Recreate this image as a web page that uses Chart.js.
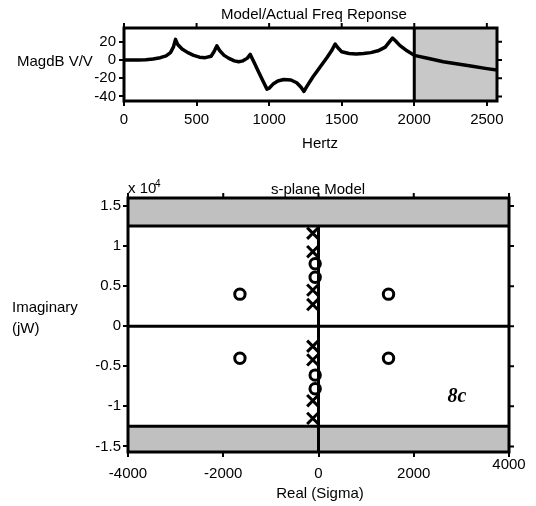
<!DOCTYPE html>
<html>
<head>
<meta charset="utf-8">
<script src="https://cdn.jsdelivr.net/npm/chart.js@4"></script>
<style>
  html, body { margin: 0; padding: 0; background: #fff; }
  #wrap { position: relative; width: 536px; height: 506px; }
  canvas { position: absolute; left: 0; }
  #freqChart { top: 0; }
  #planeChart { top: 165px; }
</style>
</head>
<body>
<div id="wrap">
  <canvas id="freqChart" width="536" height="165"></canvas>
  <canvas id="planeChart" width="536" height="341"></canvas>
</div>
<script>
// frequency response
const freqHz = [0, 100, 150, 200, 250, 290, 320, 340, 355, 370, 400, 440, 480, 520, 560, 600, 620, 640,
  660, 690, 720, 760, 790, 820, 850, 870, 900, 930, 960, 985, 1000, 1030, 1060, 1100, 1150, 1190, 1220,
  1240, 1260, 1300, 1350, 1400, 1430, 1455, 1475, 1500, 1550, 1600, 1650, 1700, 1750, 1800, 1830, 1850,
  1870, 1900, 1950, 2000, 2100, 2200, 2300, 2400, 2500, 2570];
const magDb = [0, 0, 0.3, 1, 2.5, 4.5, 8, 14, 22.5, 17, 12, 8, 5, 3, 2.5, 4, 9, 15.5,
  10, 5, 2, -1, -2, -1, 2, 6, -4, -14, -24, -32, -31, -26, -23, -21.5, -22, -25, -30,
  -34.5, -29, -19, -8, 3, 10, 17.5, 13, 9, 7, 6.5, 7, 8, 10, 14, 20, 24,
  21, 16, 10, 5, 1.5, -2, -4.5, -7, -9.5, -11];
const hzTicks = [0, 500, 1000, 1500, 2000, 2500];
const dbTicks = [20, 0, -20, -40];
const modelLimitHz = 2000;

// s-plane poles (x) and zeros (o), imaginary part in units of 1e4
const poleRe = [-120, -120, -120, -120, -120, -120, -120, -120];
const poleIm = [1.16, 0.93, 0.45, 0.27, -0.25, -0.42, -0.93, -1.15];
const zeroRe = [-1650, 1470, -70, -70, -1650, 1470, -70, -70];
const zeroIm = [0.4, 0.4, 0.78, 0.61, -0.4, -0.4, -0.78, -0.61];
const sigmaTicks = [-4000, -2000, 0, 2000, 4000];
const jwTicks = [1.5, 1, 0.5, 0, -0.5, -1, -1.5];
const bandIm = 1.25;

const FONT = '"Liberation Sans", Arial, sans-serif';
Chart.defaults.font.family = FONT;
Chart.defaults.color = '#000';

function fmt(v) { return String(+v.toFixed(2)); }

function axis(min, max, list, extra) {
  return Object.assign({
    type: 'linear', min, max,
    afterBuildTicks: s => { s.ticks = list.map(v => ({ value: v })); },
    ticks: { font: { size: 15 }, color: '#000', callback: fmt, autoSkip: false, maxRotation: 0 },
    grid: { drawOnChartArea: false, drawTicks: true, tickLength: 5, color: '#000', lineWidth: 2 },
    border: { display: false }
  }, extra);
}

// frame + ticks on top/right sides, drawn from the chart's own scales
const frame = {
  id: 'frame',
  afterDraw(chart) {
    const { ctx, chartArea: a, scales } = chart;
    ctx.save();
    ctx.strokeStyle = '#000';
    ctx.lineWidth = 2;
    ctx.beginPath();
    scales.x.ticks.forEach(t => {
      const px = scales.x.getPixelForValue(t.value);
      ctx.moveTo(px, a.top); ctx.lineTo(px, a.top - 5);
    });
    scales.y.ticks.forEach(t => {
      const py = scales.y.getPixelForValue(t.value);
      ctx.moveTo(a.right, py); ctx.lineTo(a.right + 5, py);
    });
    ctx.stroke();
    ctx.lineWidth = 3;
    ctx.strokeRect(a.left, a.top, a.right - a.left, a.bottom - a.top);
    ctx.restore();
  }
};

function text(ctx, str, x, y, font, align) {
  ctx.font = font;
  ctx.textAlign = align || 'left';
  ctx.textBaseline = 'alphabetic';
  ctx.fillStyle = '#000';
  ctx.fillText(str, x, y);
}

new Chart(document.getElementById('freqChart'), {
  type: 'line',
  data: {
    datasets: [
      {
        data: freqHz.map((f, i) => ({ x: f, y: magDb[i] })),
        borderColor: '#000', borderWidth: 3.5, pointRadius: 0, tension: 0, borderJoinStyle: 'round'
      },
      {
        data: [{ x: modelLimitHz, y: -45 }, { x: modelLimitHz, y: 35 }],
        borderColor: '#000', borderWidth: 3, pointRadius: 0
      }
    ]
  },
  options: {
    responsive: false, animation: false,
    layout: { padding: { top: 28, right: 39, left: 0, bottom: 0 } },
    plugins: { legend: { display: false }, tooltip: { enabled: false } },
    scales: {
      x: axis(0, 2570, hzTicks, { afterFit: s => { s.height = 64; }, ticks: { font: { size: 15 }, color: '#000', callback: fmt, padding: 5, maxRotation: 0 } }),
      y: axis(-45, 35, dbTicks, { afterFit: s => { s.width = 124; }, ticks: { font: { size: 15 }, color: '#000', callback: fmt, padding: 3 } })
    }
  },
  plugins: [frame, {
    id: 'shade',
    beforeDatasetsDraw(chart) {
      const { ctx, chartArea: a, scales: { x } } = chart;
      const x0 = x.getPixelForValue(modelLimitHz);
      ctx.save();
      ctx.fillStyle = '#c8c8c8';
      ctx.fillRect(x0, a.top, a.right - x0, a.bottom - a.top);
      ctx.restore();
    },
    afterDraw(chart) {
      const ctx = chart.ctx;
      text(ctx, 'Model/Actual Freq Reponse', 314, 19, '15px ' + FONT, 'center');
      text(ctx, 'MagdB V/V', 17, 66, '15px ' + FONT);
      text(ctx, 'Hertz', 320, 148, '15px ' + FONT, 'center');
    }
  }]
});

const bandColor = '#c0c0c0';
new Chart(document.getElementById('planeChart'), {
  type: 'scatter',
  data: {
    datasets: [
      {
        type: 'line', data: [{ x: -4000, y: 0 }, { x: 4000, y: 0 }],
        borderColor: '#000', borderWidth: 3, pointRadius: 0
      },
      {
        type: 'line', data: [{ x: 0, y: -1.57 }, { x: 0, y: bandIm }],
        borderColor: '#000', borderWidth: 3, pointRadius: 0
      },
      {
        data: poleRe.map((r, i) => ({ x: r, y: poleIm[i] })),
        pointStyle: 'crossRot', pointRadius: 8, borderColor: '#000', borderWidth: 3
      },
      {
        data: zeroRe.map((r, i) => ({ x: r, y: zeroIm[i] })),
        pointStyle: 'circle', pointRadius: 5.2, borderColor: '#000', backgroundColor: 'rgba(0,0,0,0)', borderWidth: 3
      }
    ]
  },
  options: {
    responsive: false, animation: false,
    layout: { padding: { top: 33, right: 27, left: 0, bottom: 0 } },
    plugins: { legend: { display: false }, tooltip: { enabled: false } },
    scales: {
      x: axis(-4000, 4000, sigmaTicks, {
        afterFit: s => { s.height = 54; },
        ticks: { font: { size: 15 }, color: '#000', padding: 8, maxRotation: 0, callback: v => v === 4000 ? '' : fmt(v) }
      }),
      y: axis(-1.57, 1.6, jwTicks, { afterFit: s => { s.width = 128; }, ticks: { font: { size: 15 }, color: '#000', callback: fmt, padding: 2 } })
    }
  },
  plugins: [frame, {
    id: 'bands',
    beforeDatasetsDraw(chart) {
      const { ctx, chartArea: a, scales: { y } } = chart;
      const yt = y.getPixelForValue(bandIm);
      const yb = y.getPixelForValue(-bandIm);
      ctx.save();
      ctx.fillStyle = bandColor;
      ctx.fillRect(a.left, a.top, a.right - a.left, yt - a.top);
      ctx.fillRect(a.left, yb, a.right - a.left, a.bottom - yb);
      ctx.strokeStyle = '#000';
      ctx.lineWidth = 3;
      ctx.beginPath();
      ctx.moveTo(a.left, yt); ctx.lineTo(a.right, yt);
      ctx.moveTo(a.left, yb); ctx.lineTo(a.right, yb);
      ctx.stroke();
      ctx.restore();
    },
    afterDraw(chart) {
      const { ctx, scales: { x } } = chart;
      text(ctx, 's-plane Model', 318, 29, '15px ' + FONT, 'center');
      text(ctx, 'x 10', 128, 28, '15px ' + FONT);
      text(ctx, '4', 155, 22, '10px ' + FONT);
      text(ctx, 'Imaginary', 12, 147, '15px ' + FONT);
      text(ctx, '(jW)', 12, 168, '15px ' + FONT);
      text(ctx, '4000', x.getPixelForValue(4000), 304, '15px ' + FONT, 'center');
      text(ctx, 'Real (Sigma)', 320, 333, '15px ' + FONT, 'center');
      text(ctx, '8c', 457, 237, 'italic bold 20px "Liberation Serif", "Times New Roman", serif', 'center');
    }
  }]
});
</script>
</body>
</html>
